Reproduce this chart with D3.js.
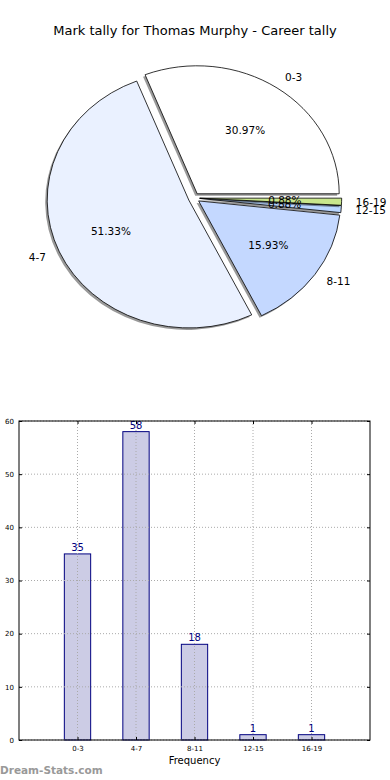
<!DOCTYPE html>
<html>
<head>
<meta charset="utf-8">
<script src="https://cdn.jsdelivr.net/npm/d3@7"></script>
<style>
body { margin: 0; background: #fff; }
svg { display: block; font-family: "DejaVu Sans", sans-serif; }
</style>
</head>
<body>
<script>
var categories = ["0-3", "4-7", "8-11", "12-15", "16-19"];
var counts = [35, 58, 18, 1, 1];
var sliceColors = ["#ffffff", "#eaf1ff", "#c4d8ff", "#b8d5ff", "#c8e68c"];
var yTicks = [0, 10, 20, 30, 40, 50, 60];
var title = "Mark tally for Thomas Murphy - Career tally";

var w = 390, h = 780;
var svg = d3.select("body").append("svg").attr("width", w).attr("height", h);

svg.append("rect").attr("width", w).attr("height", h).attr("fill", "#fff");

svg.append("text")
	.attr("x", 195).attr("y", 35)
	.attr("text-anchor", "middle")
	.attr("font-size", 13)
	.attr("fill", "#000")
	.text(title);

// pie (matplotlib style: starts at 3 o'clock, counterclockwise, elliptical)
var cx = 194, cy = 198, rx = 142, ry = 128, explode = 0.04;
var total = d3.sum(counts);

var pie = d3.pie().sort(null)
	.startAngle(Math.PI / 2)
	.endAngle(Math.PI / 2 - 2 * Math.PI);
var arc = d3.arc().innerRadius(0).outerRadius(1);
var arcs = pie(counts);

function mid(d) { return (d.startAngle + d.endAngle) / 2; }

var slice = svg.selectAll("g.slice")
	.data(arcs)
	.enter()
	.append("g")
	.attr("class", "slice")
	.attr("transform", function(d) {
		return "translate(" + (cx + explode * rx * Math.sin(mid(d))) + "," + (cy - explode * ry * Math.cos(mid(d))) + ")";
	});

slice.append("path")
	.attr("d", arc)
	.attr("transform", "translate(-2,2) scale(" + rx + "," + ry + ")")
	.attr("fill", "#000")
	.attr("fill-opacity", 0.4);

slice.append("path")
	.attr("d", arc)
	.attr("transform", "scale(" + rx + "," + ry + ")")
	.attr("fill", function(d, i) { return sliceColors[i]; })
	.attr("stroke", "#000")
	.attr("stroke-width", 0.8)
	.attr("vector-effect", "non-scaling-stroke");

slice.append("text")
	.attr("x", function(d) { return 1.1 * rx * Math.sin(mid(d)); })
	.attr("y", function(d) { return -1.1 * ry * Math.cos(mid(d)); })
	.attr("dy", "0.35em")
	.attr("text-anchor", function(d) { return Math.sin(mid(d)) > 0 ? "start" : "end"; })
	.attr("font-size", 10.5)
	.text(function(d, i) { return categories[i]; });

slice.append("text")
	.attr("x", function(d) { return 0.6 * rx * Math.sin(mid(d)); })
	.attr("y", function(d) { return -0.6 * ry * Math.cos(mid(d)); })
	.attr("dy", "0.35em")
	.attr("text-anchor", "middle")
	.attr("font-size", 10.5)
	.text(function(d) { return (d.value / total * 100).toFixed(2) + "%"; });

// bar chart
var plotL = 19, plotR = 370, plotT = 421, plotB = 740;
var x = d3.scaleLinear().domain([-1, 5]).range([plotL, plotR]);
var y = d3.scaleLinear().domain([0, 60]).range([plotB, plotT]);
var barW = x(0.45) - x(0);

var chart = svg.append("g");

chart.selectAll("rect.bar")
	.data(counts)
	.enter()
	.append("rect")
	.attr("class", "bar")
	.attr("x", function(d, i) { return x(i) - barW / 2; })
	.attr("y", function(d) { return y(d); })
	.attr("width", barW)
	.attr("height", function(d) { return y(0) - y(d); })
	.attr("fill", "#ccccE5")
	.attr("stroke", "#000080")
	.attr("stroke-width", 1);

// grid
chart.selectAll("line.vgrid")
	.data(categories)
	.enter()
	.append("line")
	.attr("class", "vgrid")
	.attr("x1", function(d, i) { return x(i); })
	.attr("x2", function(d, i) { return x(i); })
	.attr("y1", plotT).attr("y2", plotB)
	.attr("stroke", "#aaa")
	.attr("stroke-dasharray", "1,2");

chart.selectAll("line.hgrid")
	.data(yTicks)
	.enter()
	.append("line")
	.attr("class", "hgrid")
	.attr("x1", plotL).attr("x2", plotR)
	.attr("y1", function(d) { return y(d); })
	.attr("y2", function(d) { return y(d); })
	.attr("stroke", "#aaa")
	.attr("stroke-dasharray", "1,2");

chart.selectAll("text.val")
	.data(counts)
	.enter()
	.append("text")
	.attr("class", "val")
	.attr("x", function(d, i) { return x(i); })
	.attr("y", function(d) { return y(d) - 3; })
	.attr("text-anchor", "middle")
	.attr("font-size", 10)
	.attr("fill", "#000080")
	.text(function(d) { return d; });

// frame and ticks
chart.append("rect")
	.attr("x", plotL).attr("y", plotT)
	.attr("width", plotR - plotL).attr("height", plotB - plotT)
	.attr("fill", "none")
	.attr("stroke", "#000")
	.attr("stroke-width", 1);

var yAxisL = d3.axisLeft(y).tickValues(yTicks).tickSize(-3).tickPadding(5);
var gy = chart.append("g").attr("transform", "translate(" + plotL + ",0)").call(yAxisL);
gy.select(".domain").remove();
gy.selectAll("text").attr("font-size", 7).attr("font-family", "DejaVu Sans");

var yAxisR = d3.axisRight(y).tickValues(yTicks).tickSize(-3).tickFormat("");
var gyr = chart.append("g").attr("transform", "translate(" + plotR + ",0)").call(yAxisR);
gyr.select(".domain").remove();

var xAxis = d3.axisBottom(x).tickValues([0, 1, 2, 3, 4]).tickSize(-3).tickPadding(6)
	.tickFormat(function(d) { return categories[d]; });
var gx = chart.append("g").attr("transform", "translate(0," + plotB + ")").call(xAxis);
gx.select(".domain").remove();
gx.selectAll("text").attr("font-size", 7).attr("font-family", "DejaVu Sans");

var xAxisT = d3.axisTop(x).tickValues([0, 1, 2, 3, 4]).tickSize(-3).tickFormat("");
var gxt = chart.append("g").attr("transform", "translate(0," + plotT + ")").call(xAxisT);
gxt.select(".domain").remove();

chart.append("text")
	.attr("x", (plotL + plotR) / 2).attr("y", 764)
	.attr("text-anchor", "middle")
	.attr("font-size", 10)
	.text("Frequency");

svg.append("text")
	.attr("x", 0).attr("y", 774)
	.attr("font-size", 10.5)
	.attr("font-weight", "bold")
	.attr("fill", "#999")
	.text("Dream-Stats.com");
</script>
</body>
</html>
